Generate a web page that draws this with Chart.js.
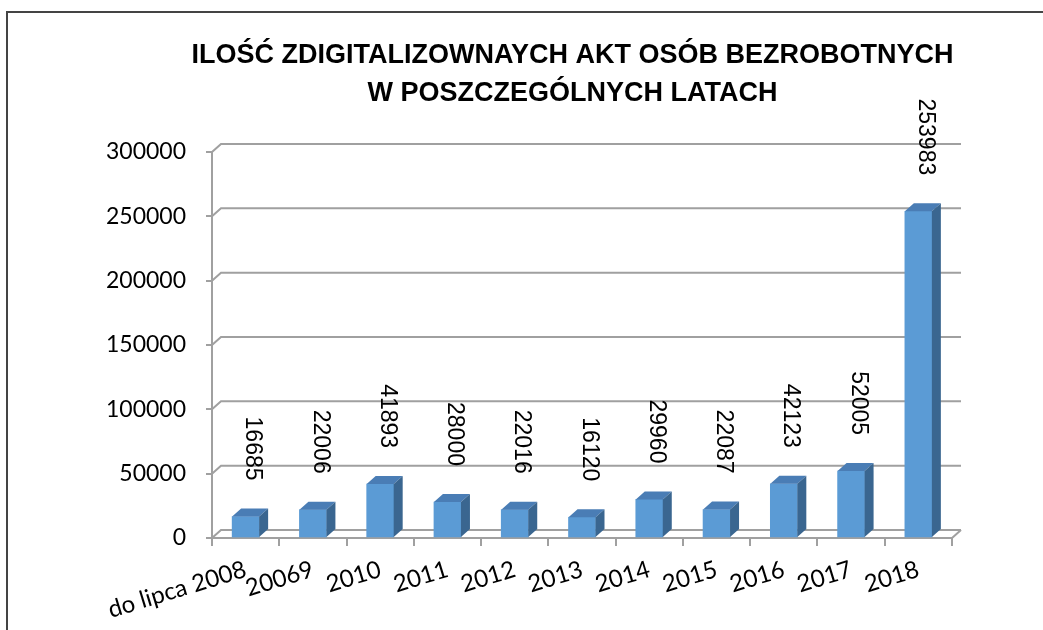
<!DOCTYPE html>
<html>
<head>
<meta charset="utf-8">
<title>Akta osób bezrobotnych</title>
<script src="https://cdn.jsdelivr.net/npm/chart.js"></script>
<style>
    html, body { margin: 0; padding: 0; background: #fff; }
    body { width: 1043px; height: 630px; position: relative; overflow: hidden; }
    #frameTop { position: absolute; left: 6px; top: 11px; width: 1037px; height: 2px; background: #444; }
    #frameLeft { position: absolute; left: 6px; top: 11px; width: 2px; height: 619px; background: #444; }
    #wrap { position: absolute; left: 102px; top: 0; width: 941px; height: 630px; }
</style>
</head>
<body>
<div id="frameTop"></div>
<div id="frameLeft"></div>
<div id="wrap"><canvas id="aktaChart" width="941" height="630"></canvas></div>
<script>
// Data
const years = ['do lipca 2008', '20069', '2010', '2011', '2012', '2013', '2014', '2015', '2016', '2017', '2018'];
const scannedFiles = [16685, 22006, 41893, 28000, 22016, 16120, 29960, 22087, 42123, 52005, 253983];
const yTicks = [0, 50000, 100000, 150000, 200000, 250000, 300000];
const titleLines = ['ILOŚĆ ZDIGITALIZOWNAYCH AKT OSÓB BEZROBOTNYCH', 'W POSZCZEGÓLNYCH LATACH'];

// 3D look (Excel style): back wall offset
const depthX = 9;
const depthY = 8;
const gridColor = '#a0a0a0';

const bar3d = {
    id: 'bar3d',
    beforeDatasetsDraw(chart) {
        const { ctx, chartArea: a, scales: { y } } = chart;
        ctx.save();
        ctx.strokeStyle = gridColor;
        ctx.lineWidth = 2;
        // gridlines on the back wall
        yTicks.forEach(v => {
            const py = y.getPixelForValue(v);
            ctx.beginPath();
            ctx.moveTo(a.left, py);
            ctx.lineTo(a.left + depthX, py - depthY);
            ctx.lineTo(a.right + depthX, py - depthY);
            ctx.stroke();
        });
        // right edge of the floor
        const y0 = y.getPixelForValue(0);
        ctx.beginPath();
        ctx.moveTo(a.right, y0);
        ctx.lineTo(a.right + depthX, y0 - depthY);
        ctx.stroke();
        ctx.restore();
    },
    afterDatasetsDraw(chart) {
        const ctx = chart.ctx;
        const meta = chart.getDatasetMeta(0);
        const values = chart.data.datasets[0].data;
        ctx.save();
        meta.data.forEach((bar, i) => {
            const { x, y, base, width } = bar.getProps(['x', 'y', 'base', 'width'], true);
            const l = x - width / 2;
            const r = x + width / 2;

            // top face
            ctx.fillStyle = '#4a7db5';
            ctx.beginPath();
            ctx.moveTo(l, y);
            ctx.lineTo(l + depthX, y - depthY);
            ctx.lineTo(r + depthX, y - depthY);
            ctx.lineTo(r, y);
            ctx.closePath();
            ctx.fill();

            // side face
            ctx.fillStyle = '#3a6690';
            ctx.beginPath();
            ctx.moveTo(r, y);
            ctx.lineTo(r + depthX, y - depthY);
            ctx.lineTo(r + depthX, base - depthY);
            ctx.lineTo(r, base);
            ctx.closePath();
            ctx.fill();

            // value label, rotated 90deg
            ctx.save();
            ctx.translate(x + 7, y - 36);
            ctx.rotate(Math.PI / 2);
            ctx.font = '23px "Liberation Sans", Arial, sans-serif';
            ctx.fillStyle = '#000';
            ctx.textAlign = 'right';
            ctx.textBaseline = 'middle';
            ctx.fillText(String(values[i]), 0, 0);
            ctx.restore();
        });
        ctx.restore();
    }
};

const aktaChart = new Chart(document.getElementById('aktaChart'), {
    type: 'bar',
    data: {
        labels: years,
        datasets: [{
            label: 'Akta',
            data: scannedFiles,
            backgroundColor: '#5b9bd5',
            borderWidth: 0,
            barThickness: 27
        }]
    },
    options: {
        responsive: false,
        animation: false,
        plugins: {
            legend: { display: false },
            tooltip: { enabled: false },
            title: {
                display: true,
                text: titleLines,
                color: '#000',
                font: { family: '"Liberation Sans", Arial, sans-serif', size: 27, weight: 'bold', lineHeight: 38 / 27 },
                padding: { top: 37, bottom: 39 }
            }
        },
        scales: {
            x: {
                grid: { offset: true, drawOnChartArea: false, tickLength: 8, color: gridColor, lineWidth: 2 },
                border: { color: gridColor, width: 2 },
                ticks: {
                    autoSkip: false,
                    minRotation: 17,
                    maxRotation: 17,
                    padding: 9,
                    color: '#000',
                    font: { family: 'Lato', size: 24 }
                },
                afterFit(scale) {
                    scale.height = 92;
                    // rotated first label may hang to the left, don't let it push the plot
                    scale.paddingLeft = 0;
                    scale.paddingRight = 0;
                }
            },
            y: {
                min: 0,
                max: 300000,
                grid: { drawOnChartArea: false, tickLength: 6, color: gridColor, lineWidth: 2 },
                border: { color: gridColor, width: 2 },
                ticks: {
                    stepSize: 50000,
                    padding: 20,
                    color: '#000',
                    font: { family: 'Lato', size: 23 },
                    callback: v => String(v)
                },
                afterFit(scale) { scale.width = 110; }
            },
            // empty right-hand space (keeps the title centred on the whole canvas)
            spacer: {
                position: 'right',
                display: true,
                min: 0,
                max: 300000,
                grid: { display: false },
                border: { display: false },
                ticks: { display: false },
                afterFit(scale) { scale.width = 91; }
            }
        }
    },
    plugins: [bar3d]
});
</script>
</body>
</html>
